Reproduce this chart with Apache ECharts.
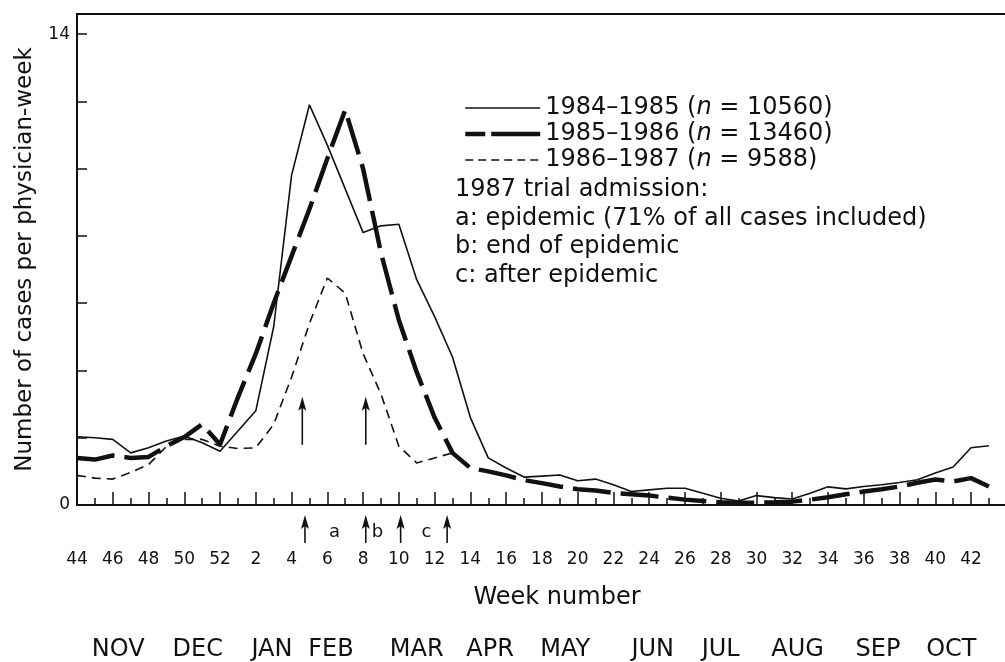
<!DOCTYPE html>
<html><head><meta charset="utf-8">
<script src="https://cdn.jsdelivr.net/npm/echarts@6/dist/echarts.min.js"></script>
<style>html,body{margin:0;padding:0;background:#fff}#c{width:1005px;height:662px}</style>
</head><body><div id="c"></div>
<script>
// ---- data (week index 0 = week 44) ----
const weeks = [44,45,46,47,48,49,50,51,52,1,2,3,4,5,6,7,8,9,10,11,12,13,14,15,16,17,18,19,20,21,22,23,24,25,26,27,28,29,30,31,32,33,34,35,36,37,38,39,40,41,42,43];
const cases8485 = [2.03,2.0,1.95,1.55,1.7,1.9,2.05,1.85,1.6,2.2,2.8,5.3,9.8,11.9,10.7,9.4,8.1,8.3,8.35,6.7,5.6,4.4,2.6,1.4,1.1,0.83,0.86,0.89,0.72,0.77,0.6,0.4,0.45,0.5,0.5,0.35,0.2,0.12,0.28,0.22,0.18,0.35,0.54,0.48,0.55,0.6,0.67,0.75,0.95,1.13,1.7,1.76];
const cases8586 = [1.4,1.35,1.47,1.4,1.43,1.75,2.02,2.4,1.8,3.2,4.5,6.0,7.4,8.8,10.3,11.75,10.0,7.5,5.5,3.95,2.6,1.55,1.1,1.0,0.88,0.74,0.65,0.55,0.47,0.43,0.36,0.32,0.28,0.22,0.16,0.12,0.08,0.07,0.07,0.08,0.1,0.16,0.23,0.32,0.4,0.47,0.55,0.66,0.76,0.7,0.8,0.55];
const cases8687 = [0.88,0.8,0.77,0.97,1.2,1.74,1.95,1.95,1.75,1.68,1.7,2.4,3.8,5.4,6.75,6.3,4.5,3.3,1.75,1.25,1.4,1.55];
const seasonNames = ['1984–1985','1985–1986','1986–1987'];
const seasonN = ['10560','13460','9588'];
const yTickLabels = [0,14];
const months = ['NOV','DEC','JAN','FEB','MAR','APR','MAY','JUN','JUL','AUG','SEP','OCT'];
const monthAt = [2.3,6.75,10.9,14.2,19.0,23.1,27.3,32.2,36.0,40.3,44.8,48.9];
// arrows: [week index, from value, to value]
const arrowsAbove = [[12.6,1.79,3.22],[16.15,1.79,3.22]];
const arrowsBelow = [[12.75,-1.13,-0.3],[16.15,-1.13,-0.3],[18.1,-1.13,-0.3],[20.7,-1.13,-0.3]];
const phaseLabels = ['a','b','c'];
const phaseAt = [14.4,16.8,19.55];
const notes = ['1987 trial admission:','a: epidemic (71% of all cases included)','b: end of epidemic','c: after epidemic'];

// ---- chart ----
const FONT = 'DejaVu Sans';
const INK = '#111';
const chart = echarts.init(document.getElementById('c'));
const toPairs = arr => arr.map((v,i)=>[i,v]);
const evenIdx = weeks.map((w,i)=>i).filter(i=>i%2===0);
const oddIdx = weeks.map((w,i)=>i).filter(i=>i%2===1);
const XMAX = 51.9, YMAX = 14.6;
const seriesLine = [
  {width:1.6,type:'solid'},
  {width:4.5,type:[38,10]},
  {width:1.6,type:[9,6]}
];
const legendLine = [
  {width:1.6,type:'solid'},
  {width:4.5,type:[20,6,60,6]},
  {width:1.6,type:[8,5]}
];

chart.setOption({
  animation:false,
  backgroundColor:'#fff',
  textStyle:{fontFamily:FONT,color:INK},
  grid:{left:77,right:0,top:14,bottom:157,containLabel:false},
  title:{
    text:notes.join('\n'), left:455, top:176, padding:0,
    textStyle:{fontFamily:FONT,fontSize:24,fontWeight:'normal',color:INK,lineHeight:28.5}
  },
  legend:{
    orient:'vertical', left:463, top:96, padding:0, itemGap:2,
    itemWidth:75, itemHeight:14,
    itemStyle:{color:'rgba(0,0,0,0)',borderWidth:0,opacity:0},
    data:seasonNames.map((n,k)=>({name:n,lineStyle:{color:INK,width:legendLine[k].width,type:legendLine[k].type}})),
    formatter:name=>{const k=seasonNames.indexOf(name);return '{t|'+name+' (}{i|n}{t| = '+seasonN[k]+')}';},
    textStyle:{fontFamily:FONT,color:INK,rich:{
      t:{fontFamily:FONT,fontSize:24,color:INK,lineHeight:26},
      i:{fontFamily:FONT,fontSize:24,color:INK,fontStyle:'italic',lineHeight:26}
    }}
  },
  xAxis:[
    {type:'value',min:0,max:XMAX,interval:2,position:'bottom',
     name:'Week number',nameLocation:'middle',nameGap:81,
     nameTextStyle:{fontFamily:FONT,fontSize:24,color:INK,padding:[0,0,0,32]},
     axisLine:{show:true,lineStyle:{color:INK,width:2}},
     axisTick:{show:true,inside:true,length:13,customValues:evenIdx,lineStyle:{color:INK,width:1.5}},
     axisLabel:{show:true,margin:46,fontFamily:FONT,fontSize:17,color:INK,customValues:evenIdx,
       formatter:v=>String(weeks[Math.round(v)])},
     splitLine:{show:false}},
    {type:'value',min:0,max:XMAX,position:'bottom',
     axisLine:{show:false},
     axisTick:{show:true,inside:true,length:7,customValues:oddIdx,lineStyle:{color:INK,width:1.5}},
     axisLabel:{show:false},splitLine:{show:false}},
    {type:'value',min:0,max:XMAX,position:'bottom',offset:125,
     axisLine:{show:false},axisTick:{show:false},splitLine:{show:false},
     axisLabel:{show:true,margin:8,fontFamily:FONT,fontSize:24,color:INK,customValues:monthAt,
       formatter:v=>{const k=monthAt.findIndex(m=>Math.abs(m-v)<1e-6);return k>=0?months[k]:'';}}},
    {type:'value',min:0,max:XMAX,position:'top',
     axisLine:{show:true,lineStyle:{color:INK,width:2}},
     axisTick:{show:false},axisLabel:{show:false},splitLine:{show:false}}
  ],
  yAxis:{type:'value',min:0,max:YMAX,
    name:'Number of cases per physician-week',nameLocation:'middle',nameGap:40,
    nameTextStyle:{fontFamily:FONT,fontSize:23,color:INK},
    axisLine:{show:true,lineStyle:{color:INK,width:2}},
    axisTick:{show:true,inside:true,length:10,customValues:[0,2,4,6,8,10,12,14],lineStyle:{color:INK,width:1.5}},
    axisLabel:{show:true,margin:7,fontFamily:FONT,fontSize:17,color:INK,customValues:yTickLabels},
    splitLine:{show:false}},
  series:[
    {name:seasonNames[0],type:'line',data:toPairs(cases8485),symbol:'none',
     lineStyle:Object.assign({color:INK},seriesLine[0]),itemStyle:{color:INK},z:3},
    {name:seasonNames[1],type:'line',data:toPairs(cases8586),symbol:'none',
     lineStyle:Object.assign({color:INK},seriesLine[1]),itemStyle:{color:INK},z:4},
    {name:seasonNames[2],type:'line',data:toPairs(cases8687),symbol:'none',
     lineStyle:Object.assign({color:INK},seriesLine[2]),itemStyle:{color:INK},z:3},
    {name:'phases',type:'custom',clip:false,silent:true,
     data:phaseAt.map(x=>[x,-0.8]),
     encode:{x:0,y:1},
     renderItem:(params,api)=>{
       const p = api.coord([api.value(0),api.value(1)]);
       return {type:'text',x:p[0],y:p[1],style:{text:phaseLabels[params.dataIndex],fill:INK,
         font:'18px "DejaVu Sans"',align:'center',verticalAlign:'middle'}};
     }},
    {name:'arrows',type:'custom',clip:false,silent:true,
     data:arrowsAbove.concat(arrowsBelow),
     encode:{x:0,y:[1,2]},
     renderItem:(params,api)=>{
       const p1 = api.coord([api.value(0),api.value(1)]);
       const p2 = api.coord([api.value(0),api.value(2)]);
       const x = p1[0];
       return {type:'group',children:[
         {type:'line',shape:{x1:x,y1:p1[1],x2:x,y2:p2[1]+8},style:{stroke:INK,lineWidth:1.6}},
         {type:'polygon',shape:{points:[[x,p2[1]],[x-4,p2[1]+14],[x,p2[1]+11],[x+4,p2[1]+14]]},style:{fill:INK}}
       ]};
     }}
  ]
});
</script>
</body></html>
